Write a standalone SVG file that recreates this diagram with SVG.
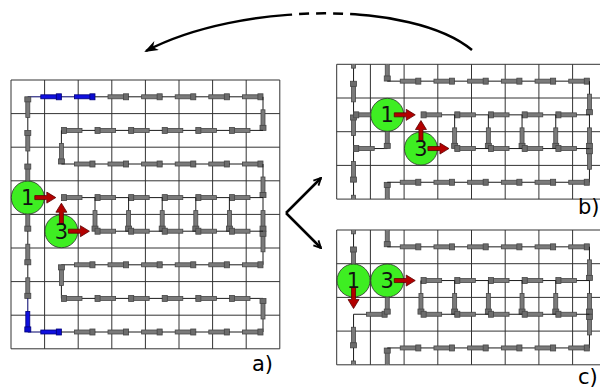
<svg xmlns="http://www.w3.org/2000/svg" width="600" height="389" viewBox="0 0 600 389">
<style>
.grid{fill:none;stroke:#333;stroke-width:1}
.rob{fill:#3eee22;stroke:#2b2b2b;stroke-width:0.8}
.num{font-family:"DejaVu Sans",sans-serif;font-size:21px;fill:#111;text-anchor:middle}
.lbl{font-family:"DejaVu Sans",sans-serif;font-size:21px;fill:#000}
.conn{fill:none;stroke:#000;stroke-width:2.5}
.arr{fill:#b30000;stroke:#5a0000;stroke-width:0.8}
</style>
<defs>
<g id="sg">
<line x1="0" y1="0" x2="33.6" y2="0" stroke="#1a1a1a" stroke-width="1"/>
<rect x="13" y="-2" width="16" height="4" fill="#7a7a7a" stroke="#474747" stroke-width="0.8"/>
<rect x="28.5" y="-3" width="5.1" height="6" fill="#6c6c6c" stroke="#474747" stroke-width="0.8"/>
</g>
<g id="sb">
<line x1="0" y1="0" x2="33.6" y2="0" stroke="#00006a" stroke-width="1"/>
<rect x="13" y="-2" width="16" height="4" fill="#1010e0" stroke="#00007a" stroke-width="0.8"/>
<rect x="28.5" y="-3" width="5.1" height="6" fill="#0a0ad0" stroke="#00007a" stroke-width="0.8"/>
</g>
<path id="ra" d="M7,-2H19V-5.5L28,0L19,5.5V2H7Z"/>
<clipPath id="cb"><rect x="336.7" y="64.3" width="264" height="134.8"/></clipPath>
<clipPath id="cc"><rect x="336.7" y="230" width="264" height="134.8"/></clipPath>
<clipPath id="cs"><rect x="0" y="0" width="292" height="80"/><rect x="360" y="0" width="240" height="80"/></clipPath>
<clipPath id="cd"><rect x="292" y="0" width="68" height="80"/></clipPath>
<marker id="ah" viewBox="0 0 14 10" refX="12" refY="5" markerWidth="14" markerHeight="10" markerUnits="userSpaceOnUse" orient="auto"><path d="M0,0 L14,5 L0,10 L4,5 Z" fill="#000"/></marker>
<marker id="oa" viewBox="0 0 10 10" refX="9" refY="5" markerWidth="9" markerHeight="9" markerUnits="userSpaceOnUse" orient="auto"><path d="M1,1 L9,5 L1,9" fill="none" stroke="#000" stroke-width="2"/></marker>
</defs>

<g id="panel-a">
<path class="grid" d="M11,80V348.8M44.6,80V348.8M78.2,80V348.8M111.8,80V348.8M145.4,80V348.8M179,80V348.8M212.6,80V348.8M246.2,80V348.8M279.8,80V348.8M11,80H279.8M11,113.6H279.8M11,147.2H279.8M11,180.8H279.8M11,214.4H279.8M11,248H279.8M11,281.6H279.8M11,315.2H279.8M11,348.8H279.8"/>
<g id="path-a">
<use href="#sb" transform="translate(27.8,96.8)"/>
<use href="#sb" transform="translate(61.4,96.8)"/>
<use href="#sg" transform="translate(95,96.8)"/>
<use href="#sg" transform="translate(128.6,96.8)"/>
<use href="#sg" transform="translate(162.2,96.8)"/>
<use href="#sg" transform="translate(195.8,96.8)"/>
<use href="#sg" transform="translate(229.4,96.8)"/>
<use href="#sg" transform="translate(263,96.8) rotate(90)"/>
<use href="#sg" transform="translate(263,130.4) rotate(180)"/>
<use href="#sg" transform="translate(229.4,130.4) rotate(180)"/>
<use href="#sg" transform="translate(195.8,130.4) rotate(180)"/>
<use href="#sg" transform="translate(162.2,130.4) rotate(180)"/>
<use href="#sg" transform="translate(128.6,130.4) rotate(180)"/>
<use href="#sg" transform="translate(95,130.4) rotate(180)"/>
<use href="#sg" transform="translate(61.4,130.4) rotate(90)"/>
<use href="#sg" transform="translate(61.4,164)"/>
<use href="#sg" transform="translate(95,164)"/>
<use href="#sg" transform="translate(128.6,164)"/>
<use href="#sg" transform="translate(162.2,164)"/>
<use href="#sg" transform="translate(195.8,164)"/>
<use href="#sg" transform="translate(229.4,164)"/>
<use href="#sg" transform="translate(263,164) rotate(90)"/>
<use href="#sg" transform="translate(263,197.6) rotate(180)"/>
<use href="#sg" transform="translate(229.4,197.6) rotate(180)"/>
<use href="#sg" transform="translate(195.8,197.6) rotate(180)"/>
<use href="#sg" transform="translate(162.2,197.6) rotate(180)"/>
<use href="#sg" transform="translate(128.6,197.6) rotate(180)"/>
<use href="#sg" transform="translate(95,197.6) rotate(180)"/>
<use href="#sg" transform="translate(95,197.6) rotate(90)"/>
<use href="#sg" transform="translate(128.6,197.6) rotate(90)"/>
<use href="#sg" transform="translate(162.2,197.6) rotate(90)"/>
<use href="#sg" transform="translate(195.8,197.6) rotate(90)"/>
<use href="#sg" transform="translate(229.4,197.6) rotate(90)"/>
<use href="#sg" transform="translate(263,197.6) rotate(90)"/>
<use href="#sg" transform="translate(263,264.8) rotate(-90)"/>
<use href="#sg" transform="translate(263,231.2) rotate(180)"/>
<use href="#sg" transform="translate(229.4,231.2) rotate(180)"/>
<use href="#sg" transform="translate(195.8,231.2) rotate(180)"/>
<use href="#sg" transform="translate(162.2,231.2) rotate(180)"/>
<use href="#sg" transform="translate(128.6,231.2) rotate(180)"/>
<use href="#sg" transform="translate(61.4,264.8)"/>
<use href="#sg" transform="translate(95,264.8)"/>
<use href="#sg" transform="translate(128.6,264.8)"/>
<use href="#sg" transform="translate(162.2,264.8)"/>
<use href="#sg" transform="translate(195.8,264.8)"/>
<use href="#sg" transform="translate(229.4,264.8)"/>
<use href="#sg" transform="translate(61.4,298.4) rotate(-90)"/>
<use href="#sg" transform="translate(263,298.4) rotate(180)"/>
<use href="#sg" transform="translate(229.4,298.4) rotate(180)"/>
<use href="#sg" transform="translate(195.8,298.4) rotate(180)"/>
<use href="#sg" transform="translate(162.2,298.4) rotate(180)"/>
<use href="#sg" transform="translate(128.6,298.4) rotate(180)"/>
<use href="#sg" transform="translate(95,298.4) rotate(180)"/>
<use href="#sg" transform="translate(263,332) rotate(-90)"/>
<use href="#sb" transform="translate(27.8,332)"/>
<use href="#sg" transform="translate(61.4,332)"/>
<use href="#sg" transform="translate(95,332)"/>
<use href="#sg" transform="translate(128.6,332)"/>
<use href="#sg" transform="translate(162.2,332)"/>
<use href="#sg" transform="translate(195.8,332)"/>
<use href="#sg" transform="translate(229.4,332)"/>
<use href="#sg" transform="translate(27.8,130.4) rotate(-90)"/>
<use href="#sg" transform="translate(27.8,164) rotate(-90)"/>
<use href="#sg" transform="translate(27.8,197.6) rotate(-90)"/>
<use href="#sg" transform="translate(27.8,197.6) rotate(90)"/>
<use href="#sg" transform="translate(27.8,231.2) rotate(90)"/>
<use href="#sg" transform="translate(27.8,264.8) rotate(90)"/>
<use href="#sb" transform="translate(27.8,298.4) rotate(90)"/>
</g>
<g id="a-robot-1">
<circle class="rob" cx="27.8" cy="197.6" r="16.5"/>
<use href="#ra" class="arr" transform="translate(27.8,197.6)"/>
<text class="num" x="27.8" y="205">1</text>
</g>
<g id="a-robot-3">
<circle class="rob" cx="61.4" cy="231.2" r="16.5"/>
<use href="#ra" class="arr" transform="translate(61.4,231.2) rotate(-90)"/>
<use href="#ra" class="arr" transform="translate(61.4,231.2)"/>
<text class="num" x="61.4" y="238.6">3</text>
</g>
<text class="lbl" x="252" y="371">a)</text>
</g>

<g id="panel-b">
<path class="grid" d="M336.7,64.3V199.1M370.4,64.3V199.1M404.1,64.3V199.1M437.8,64.3V199.1M471.5,64.3V199.1M505.2,64.3V199.1M538.9,64.3V199.1M572.6,64.3V199.1M336.7,64.3H600M336.7,98H600M336.7,131.7H600M336.7,165.4H600M336.7,199.1H600"/>
<g id="path-b" clip-path="url(#cb)">
<use href="#sg" transform="translate(353.55,114.85) rotate(-90)"/>
<use href="#sg" transform="translate(353.55,81.15) rotate(-90)"/>
<use href="#sg" transform="translate(353.55,148.55) rotate(-90)"/>
<use href="#sg" transform="translate(353.55,148.55) rotate(90)"/>
<use href="#sg" transform="translate(353.55,182.25) rotate(90)"/>
<use href="#sg" transform="translate(387.25,114.85) rotate(180)"/>
<use href="#sg" transform="translate(387.25,148.55) rotate(180)"/>
<use href="#sg" transform="translate(387.25,114.85) rotate(90)"/>
<use href="#sg" transform="translate(387.25,47.45) rotate(90)"/>
<use href="#sg" transform="translate(387.25,215.95) rotate(-90)"/>
<use href="#sg" transform="translate(387.25,81.15)"/>
<use href="#sg" transform="translate(420.95,81.15)"/>
<use href="#sg" transform="translate(454.65,81.15)"/>
<use href="#sg" transform="translate(488.35,81.15)"/>
<use href="#sg" transform="translate(522.05,81.15)"/>
<use href="#sg" transform="translate(555.75,81.15)"/>
<use href="#sg" transform="translate(589.45,81.15) rotate(90)"/>
<use href="#sg" transform="translate(589.45,114.85) rotate(180)"/>
<use href="#sg" transform="translate(555.75,114.85) rotate(180)"/>
<use href="#sg" transform="translate(522.05,114.85) rotate(180)"/>
<use href="#sg" transform="translate(488.35,114.85) rotate(180)"/>
<use href="#sg" transform="translate(454.65,114.85) rotate(180)"/>
<use href="#sg" transform="translate(454.65,114.85) rotate(90)"/>
<use href="#sg" transform="translate(488.35,114.85) rotate(90)"/>
<use href="#sg" transform="translate(522.05,114.85) rotate(90)"/>
<use href="#sg" transform="translate(555.75,114.85) rotate(90)"/>
<use href="#sg" transform="translate(589.45,114.85) rotate(90)"/>
<use href="#sg" transform="translate(589.45,182.25) rotate(-90)"/>
<use href="#sg" transform="translate(589.45,148.55) rotate(180)"/>
<use href="#sg" transform="translate(555.75,148.55) rotate(180)"/>
<use href="#sg" transform="translate(522.05,148.55) rotate(180)"/>
<use href="#sg" transform="translate(488.35,148.55) rotate(180)"/>
<use href="#sg" transform="translate(387.25,182.25)"/>
<use href="#sg" transform="translate(420.95,182.25)"/>
<use href="#sg" transform="translate(454.65,182.25)"/>
<use href="#sg" transform="translate(488.35,182.25)"/>
<use href="#sg" transform="translate(522.05,182.25)"/>
<use href="#sg" transform="translate(555.75,182.25)"/>
</g>
<g id="b-robot-1">
<circle class="rob" cx="387.25" cy="114.85" r="16.5"/>
<use href="#ra" class="arr" transform="translate(387.25,114.85)"/>
<text class="num" x="387.25" y="122.25">1</text>
</g>
<g id="b-robot-3">
<circle class="rob" cx="420.95" cy="148.55" r="16.5"/>
<use href="#ra" class="arr" transform="translate(420.95,148.55) rotate(-90)"/>
<use href="#ra" class="arr" transform="translate(420.95,148.55)"/>
<text class="num" x="420.95" y="155.95">3</text>
</g>
<text class="lbl" x="578" y="214">b)</text>
</g>

<g id="panel-c">
<path class="grid" d="M336.7,230V364.8M370.4,230V364.8M404.1,230V364.8M437.8,230V364.8M471.5,230V364.8M505.2,230V364.8M538.9,230V364.8M572.6,230V364.8M336.7,230H600M336.7,263.7H600M336.7,297.4H600M336.7,331.1H600M336.7,364.8H600"/>
<g id="path-c" clip-path="url(#cc)">
<use href="#sg" transform="translate(353.55,280.55) rotate(-90)"/>
<use href="#sg" transform="translate(353.55,246.85) rotate(-90)"/>
<use href="#sg" transform="translate(353.55,314.25) rotate(90)"/>
<use href="#sg" transform="translate(353.55,347.95) rotate(90)"/>
<use href="#sg" transform="translate(353.55,314.25)"/>
<use href="#sg" transform="translate(387.25,280.55) rotate(90)"/>
<use href="#sg" transform="translate(387.25,213.15) rotate(90)"/>
<use href="#sg" transform="translate(387.25,381.65) rotate(-90)"/>
<use href="#sg" transform="translate(387.25,246.85)"/>
<use href="#sg" transform="translate(420.95,246.85)"/>
<use href="#sg" transform="translate(454.65,246.85)"/>
<use href="#sg" transform="translate(488.35,246.85)"/>
<use href="#sg" transform="translate(522.05,246.85)"/>
<use href="#sg" transform="translate(555.75,246.85)"/>
<use href="#sg" transform="translate(589.45,246.85) rotate(90)"/>
<use href="#sg" transform="translate(589.45,280.55) rotate(90)"/>
<use href="#sg" transform="translate(589.45,347.95) rotate(-90)"/>
<use href="#sg" transform="translate(589.45,280.55) rotate(180)"/>
<use href="#sg" transform="translate(555.75,280.55) rotate(180)"/>
<use href="#sg" transform="translate(522.05,280.55) rotate(180)"/>
<use href="#sg" transform="translate(488.35,280.55) rotate(180)"/>
<use href="#sg" transform="translate(454.65,280.55) rotate(180)"/>
<use href="#sg" transform="translate(420.95,280.55) rotate(90)"/>
<use href="#sg" transform="translate(454.65,280.55) rotate(90)"/>
<use href="#sg" transform="translate(488.35,280.55) rotate(90)"/>
<use href="#sg" transform="translate(522.05,280.55) rotate(90)"/>
<use href="#sg" transform="translate(555.75,280.55) rotate(90)"/>
<use href="#sg" transform="translate(589.45,314.25) rotate(180)"/>
<use href="#sg" transform="translate(555.75,314.25) rotate(180)"/>
<use href="#sg" transform="translate(522.05,314.25) rotate(180)"/>
<use href="#sg" transform="translate(488.35,314.25) rotate(180)"/>
<use href="#sg" transform="translate(454.65,314.25) rotate(180)"/>
<use href="#sg" transform="translate(387.25,347.95)"/>
<use href="#sg" transform="translate(420.95,347.95)"/>
<use href="#sg" transform="translate(454.65,347.95)"/>
<use href="#sg" transform="translate(488.35,347.95)"/>
<use href="#sg" transform="translate(522.05,347.95)"/>
<use href="#sg" transform="translate(555.75,347.95)"/>
</g>
<g id="c-robot-1">
<circle class="rob" cx="353.55" cy="280.55" r="16.5"/>
<use href="#ra" class="arr" transform="translate(353.55,280.55) rotate(90)"/>
<text class="num" x="353.55" y="287.95">1</text>
</g>
<g id="c-robot-3">
<circle class="rob" cx="387.25" cy="280.55" r="16.5"/>
<use href="#ra" class="arr" transform="translate(387.25,280.55)"/>
<text class="num" x="387.25" y="287.95">3</text>
</g>
<text class="lbl" x="578" y="384">c)</text>
</g>

<g id="connectors">
<path class="conn" clip-path="url(#cs)" d="M472,50 C412,0 240,2 146,51" marker-end="url(#ah)"/>
<path class="conn" clip-path="url(#cd)" d="M472,50 C412,0 240,2 146,51" stroke-dasharray="10 7"/>
<path class="conn" stroke-width="2" d="M286,213 L321,178" marker-end="url(#oa)"/>
<path class="conn" stroke-width="2" d="M286,213 L321,248" marker-end="url(#oa)"/>
</g>
</svg>
